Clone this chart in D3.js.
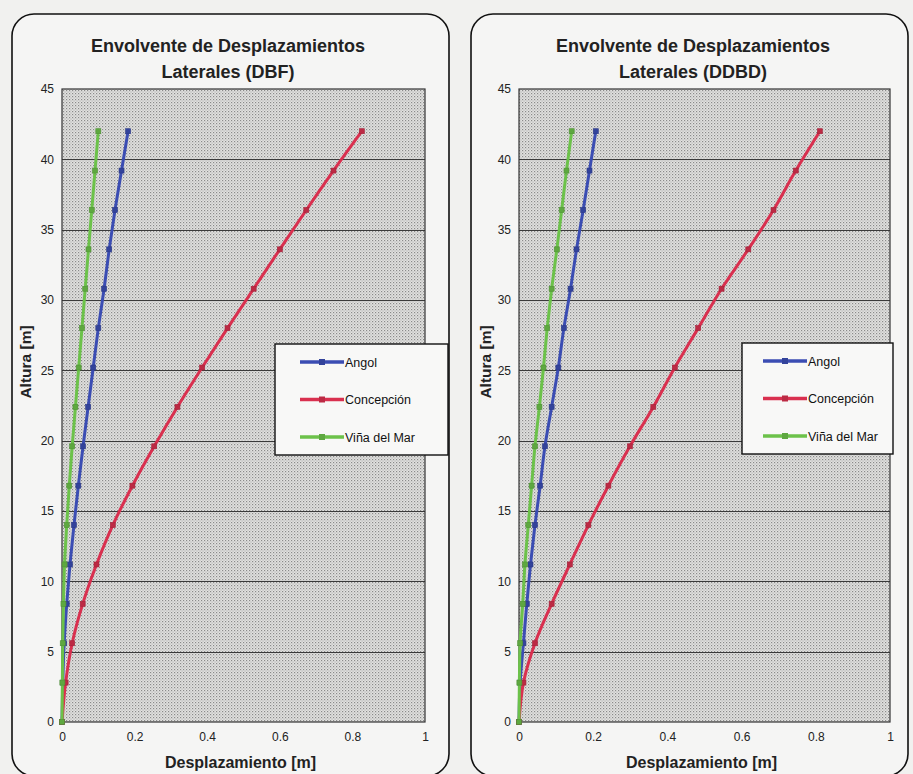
<!DOCTYPE html>
<html>
<head>
<meta charset="utf-8">
<script src="https://cdn.jsdelivr.net/npm/d3@7"></script>
<style>
  html, body { margin: 0; padding: 0; background: #f1f1ef; }
  svg { display: block; font-family: Arial, "Liberation Sans", sans-serif; }
</style>
</head>
<body>
<svg id="chart" width="913" height="774"></svg>
<script>
// ---------- data ----------
const alturas = [0, 2.8, 5.6, 8.4, 11.2, 14, 16.8, 19.6, 22.4, 25.2, 28, 30.8, 33.6, 36.4, 39.2, 42];
const seriesNames = ["Angol", "Concepción", "Viña del Mar"];
const seriesColors = ["#3b4db3", "#d9304f", "#6cc24a"];

// DBF chart
const dbfAngol    = [0, 0.002, 0.006, 0.013, 0.022, 0.033, 0.045, 0.058, 0.072, 0.086, 0.100, 0.116, 0.130, 0.146, 0.164, 0.182];
const dbfConcep   = [0, 0.010, 0.028, 0.057, 0.095, 0.140, 0.194, 0.254, 0.318, 0.386, 0.456, 0.528, 0.600, 0.673, 0.748, 0.826];
const dbfVina     = [0, 0.001, 0.002, 0.004, 0.007, 0.013, 0.020, 0.028, 0.037, 0.046, 0.055, 0.064, 0.073, 0.082, 0.091, 0.100];

// DDBD chart
const ddbdAngol   = [0, 0.003, 0.012, 0.021, 0.031, 0.043, 0.057, 0.070, 0.088, 0.106, 0.121, 0.139, 0.155, 0.173, 0.190, 0.207];
const ddbdConcep  = [0, 0.012, 0.043, 0.088, 0.137, 0.187, 0.241, 0.299, 0.362, 0.420, 0.483, 0.546, 0.618, 0.686, 0.746, 0.811];
const ddbdVina    = [0, 0.001, 0.003, 0.010, 0.016, 0.025, 0.034, 0.043, 0.055, 0.066, 0.076, 0.088, 0.102, 0.115, 0.128, 0.142];

const xTicks = [0, 0.2, 0.4, 0.6, 0.8, 1];
const xTickLabels = ["0", "0.2", "0.4", "0.6", "0.8", "1"];
const yTicks = [0, 5, 10, 15, 20, 25, 30, 35, 40, 45];
const titlesDBF = ["Envolvente de Desplazamientos", "Laterales (DBF)"];
const titlesDDBD = ["Envolvente de Desplazamientos", "Laterales (DDBD)"];
const xAxisTitle = "Desplazamiento [m]";
const yAxisTitle = "Altura [m]";

// ---------- drawing ----------
const svg = d3.select("#chart");
const defs = svg.append("defs");
const pat = defs.append("pattern").attr("id", "stipple")
  .attr("patternUnits", "userSpaceOnUse").attr("width", 3).attr("height", 3);
pat.append("rect").attr("width", 3).attr("height", 3).attr("fill", "#e2e2e0");
pat.append("rect").attr("x", 0).attr("y", 0).attr("width", 1.2).attr("height", 1.2).attr("fill", "#8a8a8a");
pat.append("rect").attr("x", 1.5).attr("y", 1.5).attr("width", 1.1).attr("height", 1.1).attr("fill", "#a8a8a8");

function drawChart(cfg) {
  const g = svg.append("g");
  // panel
  g.append("rect")
    .attr("x", cfg.panel[0]).attr("y", cfg.panel[1])
    .attr("width", cfg.panel[2]).attr("height", cfg.panel[3])
    .attr("rx", 22).attr("ry", 22)
    .attr("fill", "#f5f5f4").attr("stroke", "#111").attr("stroke-width", 1.6);

  const x = d3.scaleLinear().domain([0, 1]).range([cfg.plot.left, cfg.plot.right]);
  const y = d3.scaleLinear().domain([0, 45]).range([cfg.plot.bottom, cfg.plot.top]);

  // plot background
  g.append("rect")
    .attr("x", x(0)).attr("y", y(45))
    .attr("width", x(1) - x(0)).attr("height", y(0) - y(45))
    .attr("fill", "url(#stipple)");

  // gridlines
  g.append("g").selectAll("line").data(yTicks.filter(d => d > 0 && d < 45)).join("line")
    .attr("x1", x(0)).attr("x2", x(1))
    .attr("y1", d => Math.round(y(d)) + 0.5).attr("y2", d => Math.round(y(d)) + 0.5)
    .attr("stroke", "#3a3a3a").attr("stroke-width", 1);

  // plot border
  g.append("rect")
    .attr("x", x(0)).attr("y", y(45))
    .attr("width", x(1) - x(0)).attr("height", y(0) - y(45))
    .attr("fill", "none").attr("stroke", "#333").attr("stroke-width", 1.2);

  // axes (labels only)
  const yAxis = d3.axisLeft(y).tickValues(yTicks).tickSize(0).tickPadding(8);
  const ya = g.append("g").attr("transform", `translate(${x(0)},0)`).call(yAxis);
  ya.select(".domain").remove();
  ya.selectAll("text").attr("font-size", 12).attr("fill", "#222").attr("font-family", "Arial, 'Liberation Sans', sans-serif");

  const xAxis = d3.axisBottom(x).tickValues(xTicks).tickFormat((d, i) => xTickLabels[i]).tickSize(0).tickPadding(10);
  const xa = g.append("g").attr("transform", `translate(0,${y(0)})`).call(xAxis);
  xa.select(".domain").remove();
  xa.selectAll("text").attr("font-size", 12).attr("fill", "#222").attr("font-family", "Arial, 'Liberation Sans', sans-serif");

  // titles
  g.append("text").attr("x", cfg.titleX).attr("y", 52)
    .attr("text-anchor", "middle").attr("font-size", 18).attr("font-weight", "bold").attr("fill", "#222")
    .text(cfg.titles[0]);
  g.append("text").attr("x", cfg.titleX).attr("y", 78)
    .attr("text-anchor", "middle").attr("font-size", 18).attr("font-weight", "bold").attr("fill", "#222")
    .text(cfg.titles[1]);

  g.append("text").attr("x", (x(0) + x(1)) / 2 - 3).attr("y", 768)
    .attr("text-anchor", "middle").attr("font-size", 16).attr("font-weight", "bold").attr("fill", "#222")
    .text(xAxisTitle);
  g.append("text")
    .attr("transform", `translate(${cfg.yTitleX},362) rotate(-90)`)
    .attr("text-anchor", "middle").attr("font-size", 15.5).attr("font-weight", "bold").attr("fill", "#222")
    .text(yAxisTitle);

  // series
  const line = d3.line().x(d => x(d[0])).y(d => y(d[1])).curve(d3.curveMonotoneY);
  cfg.series.forEach((vals, si) => {
    const pts = vals.map((v, i) => [v, alturas[i]]);
    g.append("path").datum(pts)
      .attr("d", line).attr("fill", "none")
      .attr("stroke", seriesColors[si]).attr("stroke-width", 3);
    g.append("g").selectAll("rect").data(pts).join("rect")
      .attr("x", d => x(d[0]) - 2.5).attr("y", d => y(d[1]) - 2.5)
      .attr("width", 5).attr("height", 5)
      .attr("fill", d3.color(seriesColors[si]).darker(0.4))
      .attr("stroke", d3.color(seriesColors[si]).darker(0.8)).attr("stroke-width", 0.6);
  });

  // legend
  const L = cfg.legend;
  const lg = g.append("g");
  lg.append("rect").attr("x", L.x).attr("y", L.y).attr("width", L.w).attr("height", L.h)
    .attr("fill", "#f8f8f7").attr("stroke", "#111").attr("stroke-width", 1.4);
  seriesNames.forEach((name, i) => {
    const ly = L.y + 18 + i * 37.5;
    lg.append("line").attr("x1", L.lineX0).attr("x2", L.lineX1).attr("y1", ly).attr("y2", ly)
      .attr("stroke", seriesColors[i]).attr("stroke-width", 3.5);
    lg.append("rect").attr("x", (L.lineX0 + L.lineX1) / 2 - 3).attr("y", ly - 3).attr("width", 6).attr("height", 6)
      .attr("fill", d3.color(seriesColors[i]).darker(0.4));
    lg.append("text").attr("x", L.lineX1 + 1).attr("y", ly + 4.5)
      .attr("font-size", 12.5).attr("fill", "#111").text(name);
  });
}

drawChart({
  panel: [12, 14, 437, 762],
  plot: { left: 62, right: 425, top: 89, bottom: 722 },
  titleX: 228,
  yTitleX: 31,
  titles: titlesDBF,
  series: [dbfAngol, dbfConcep, dbfVina],
  legend: { x: 275, y: 344, w: 173, h: 111, lineX0: 300, lineX1: 344 }
});

drawChart({
  panel: [471, 14, 437, 762],
  plot: { left: 519, right: 890, top: 89, bottom: 722 },
  titleX: 693,
  yTitleX: 491,
  titles: titlesDDBD,
  series: [ddbdAngol, ddbdConcep, ddbdVina],
  legend: { x: 742, y: 343, w: 151, h: 111, lineX0: 763, lineX1: 807 }
});
</script>
</body>
</html>
